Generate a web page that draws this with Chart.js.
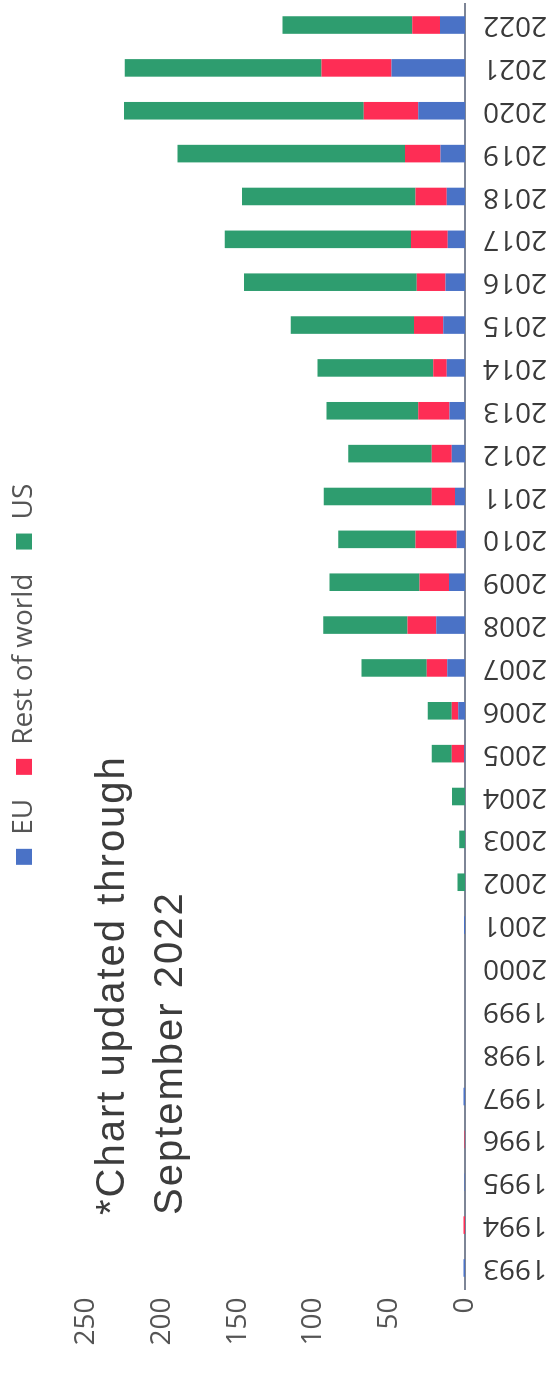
<!DOCTYPE html>
<html><head><meta charset="utf-8">
<script src="https://cdn.jsdelivr.net/npm/chart.js@4"></script>
<style>
html,body{margin:0;padding:0;background:#fff;overflow:hidden;width:554px;height:1374px}
#wrap{position:absolute;left:0;top:0;width:1374px;height:554px;transform-origin:0 0;transform:translateY(1374px) rotate(-90deg);background:#fff}
#c{position:absolute;left:0;top:0}
#note{position:absolute;left:159px;top:81px;font-family:"Liberation Sans",Arial,sans-serif;font-size:40px;line-height:58px;letter-spacing:2px;color:#3c3c3c;white-space:nowrap}
</style></head><body>
<div id="wrap"><canvas id="c" width="1374" height="554"></canvas><div id="note">*Chart updated through<br>September 2022</div></div>
<script>
const years = ['1993','1994','1995','1996','1997','1998','1999','2000','2001','2002','2003','2004','2005','2006','2007','2008','2009','2010','2011','2012','2013','2014','2015','2016','2017','2018','2019','2020','2021','2022'];
const euValues  = [1.0,0,0.3,0,1.0,0,0,0,0.6,0,0,0,0.5,4.4,11.7,18.9,10.6,5.5,6.6,8.8,10.3,12.1,14.3,12.8,11.4,12.1,16.1,30.8,48.4,16.5];
const rowValues = [0,1.0,0,0.3,0,0,0,0,0,0,0,0,8.3,4.4,13.6,19.1,19.4,27.1,15.4,13.2,20.5,8.8,19.4,19.1,24.2,20.5,23.5,35.9,46.2,18.3];
const usValues  = [0,0,0,0,0,0,0,0,0,5.0,3.8,8.5,13.2,15.8,42.9,55.4,59.4,51.0,71.1,55.0,60.5,76.3,81.2,113.8,122.8,114.4,150.0,158.2,129.8,85.6];
const valueTicks = [0,50,100,150,200,250];
const seriesNames = ['EU','Rest of world','US'];

function draw(){
  const FONT = '"Open Sans", "DejaVu Sans", sans-serif';
  new Chart(document.getElementById('c'), {
    type: 'bar',
    data: {
      labels: years,
      datasets: [
        {label: seriesNames[0], data: euValues,  backgroundColor: '#4a72c6'},
        {label: seriesNames[1], data: rowValues, backgroundColor: '#fe2d55'},
        {label: seriesNames[2], data: usValues,  backgroundColor: '#2e9d6f'}
      ]
    },
    options: {
      responsive: false,
      animation: false,
      devicePixelRatio: 1,
      layout: {padding: {left: 29, right: 3.6, top: -14, bottom: 0}},
      datasets: {bar: {barPercentage: 0.41, categoryPercentage: 1, borderWidth: 0}},
      plugins: {
        tooltip: {enabled: false},
        legend: {
          position: 'top', align: 'center',
          labels: {boxWidth: 16, boxHeight: 16, padding: 24, color: '#555', font: {family: FONT, size: 28}}
        }
      },
      scales: {
        x: {
          stacked: true,
          grid: {display: false, drawTicks: false},
          border: {display: true, color: '#7d8596', width: 2},
          ticks: {autoSkip: false, minRotation: 90, maxRotation: 90, padding: 18, color: '#3a3a3a', font: {family: FONT, size: 28}},
          afterFit: s => { s.height = 89; s.paddingLeft = 0; s.paddingRight = 0; }
        },
        y: {
          stacked: true, min: 0, max: 275,
          grid: {display: false, drawTicks: false},
          border: {display: false},
          ticks: {padding: 8, color: '#555', font: {family: FONT, size: 28}},
          afterBuildTicks: s => { s.ticks = valueTicks.map(v => ({value: v})); },
          afterFit: s => { s.width = 55.6; }
        }
      }
    }
  });
}
if (document.fonts && document.fonts.load) {
  Promise.all([document.fonts.load('28px "Open Sans"'), document.fonts.load('40px "Liberation Sans"')]).then(draw, draw);
} else { draw(); }
</script>
</body></html>
